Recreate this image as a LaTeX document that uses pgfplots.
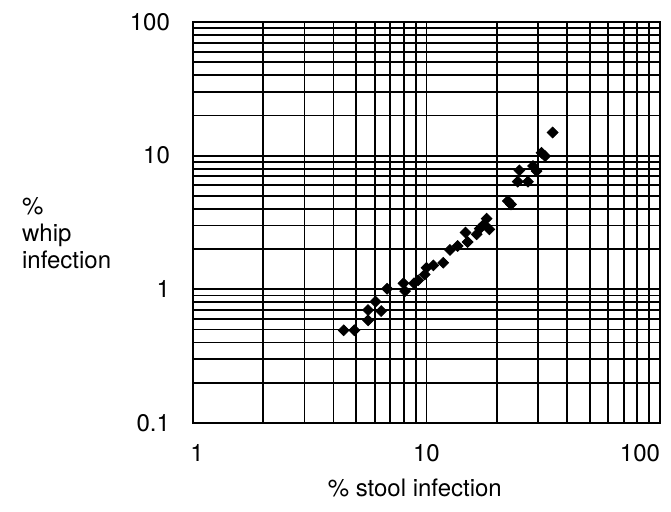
\documentclass[border=0pt]{standalone}
\usepackage{fontspec}
\setmainfont{TeX Gyre Heros}
\usepackage{pgfplots}
\pgfplotsset{compat=1.18}

\begin{document}
\begin{tikzpicture}
\begin{axis}[
  xmode=log, ymode=log,
  scale only axis, width=233.5pt, height=200.5pt,
  xmin=1, xmax=100, ymin=0.1, ymax=100,
  clip=false,
  xtick={1,10,100}, ytick={0.1,1,10,100},
  xticklabels={\hspace{4pt}1,10,\makebox[0pt][r]{100}},
  yticklabels={0.1,1,10,100},
  grid=both,
  major grid style={black, line width=0.9pt},
  minor grid style={black, line width=0.9pt},
  axis line style={black, line width=0.9pt},
  major tick length=0pt, minor tick length=0pt,
  tick label style={font=\fontsize{12}{14}\selectfont},
  yticklabel style={xshift=-8pt},
  xticklabel style={yshift=-7pt},
]
\addplot[only marks, mark=square*, mark options={rotate=45}, mark size=1.9pt, black] coordinates {
  (4.42,0.494) (4.91,0.494) (5.62,0.586) (5.62,0.700) (6.05,0.809)
  (6.40,0.688) (6.78,1.01) (7.97,1.11) (8.10,0.97) (8.84,1.11)
  (9.22,1.17) (9.83,1.29) (10.0,1.45) (10.7,1.51) (11.8,1.58)
  (12.6,1.97) (13.6,2.11) (14.7,2.66) (15.0,2.26) (16.4,2.58)
  (16.9,2.84) (17.6,3.06) (18.1,3.38) (18.6,2.81) (22.3,4.58)
  (23.0,4.32) (25.0,7.76) (24.6,6.39) (27.2,6.39) (28.6,8.36)
  (29.6,7.67) (31.1,10.5) (32.2,9.93) (34.7,14.9)
};
\node[anchor=west, align=left, font=\fontsize{12}{13.5}\selectfont]
  at (axis description cs:-0.381,0.474) {\%\\whip\\infection};
\node[font=\fontsize{12}{14}\selectfont]
  at (axis description cs:0.475,-0.162) {\% stool infection};
\end{axis}
\path[use as bounding box] (-96.5pt,-44.5pt) rectangle (239pt,211.5pt);
\end{tikzpicture}
\end{document}
